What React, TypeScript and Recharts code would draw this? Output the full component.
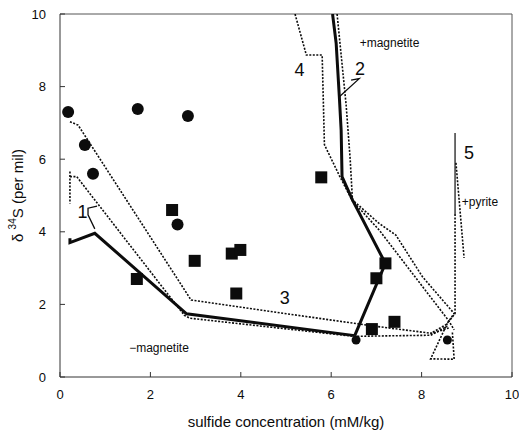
import React from 'react';
import {
  ComposedChart,
  Line,
  Scatter,
  XAxis,
  YAxis,
  ReferenceLine,
  ReferenceDot,
} from 'recharts';

const xTicks = [0, 2, 4, 6, 8, 10];
const yTicks = [0, 2, 4, 6, 8, 10];

// measured samples
const circleX = [0.18, 1.72, 2.83, 0.55, 0.73, 2.6];
const circleY = [7.3, 7.38, 7.19, 6.39, 5.6, 4.2];
const smallCircleX = [6.55, 8.57];
const smallCircleY = [1.02, 1.02];
const squareX = [1.7, 2.48, 2.98, 3.8, 3.99, 3.9, 5.78, 7.2, 7.0, 6.9, 7.4];
const squareY = [2.7, 4.6, 3.2, 3.4, 3.5, 2.3, 5.5, 3.13, 2.72, 1.32, 1.52];

// model path 1 (solid) and its dotted companions
const path1X = [0.22, 0.22, 0.77, 2.8, 6.52];
const path1Y = [3.82, 3.7, 3.96, 1.74, 1.14];
const path1StubX = [0.22, 0.22];
const path1StubY = [5.66, 4.78];
const path1DotX = [0.22, 0.37, 2.75, 2.87, 6.5, 8.2, 8.57];
const path1DotY = [5.52, 5.52, 1.7, 1.62, 1.12, 1.15, 1.4];

// model path 2 (solid)
const path2X = [6.03, 6.11, 6.18, 6.22, 6.24, 6.47, 7.14, 7.2, 6.52];
const path2Y = [10, 9.19, 7.72, 6.8, 5.52, 4.88, 3.27, 3.13, 1.14];
const path2DotX = [6.13, 6.33, 6.42, 6.47, 7.06, 7.43, 8.02, 8.72, 8.55, 8.2];
const path2DotY = [10, 7.5, 6.0, 4.88, 4.23, 3.91, 2.76, 1.75, 1.45, 1.2];

// model path 3 (dotted)
const path3X = [0.22, 0.4, 2.9, 4.41, 6.84, 8.24, 8.6];
const path3Y = [7.03, 6.94, 2.12, 1.85, 1.42, 1.2, 1.35];

// model path 4 (dotted)
const path4X = [5.2, 5.45, 5.8, 5.85, 6.18, 6.47, 7.06, 8.6, 8.72];
const path4Y = [10, 8.87, 8.87, 6.4, 5.55, 4.85, 4.05, 1.55, 1.3];

// model path 5
const path5SolidX = [8.74, 8.74];
const path5SolidY = [6.72, 4.49];
const path5DotX = [8.74, 8.74, 8.57, 8.2, 8.72, 8.68];
const path5DotY = [4.49, 1.75, 1.48, 0.5, 0.49, 1.25];
const path5BranchX = [8.76, 8.94];
const path5BranchY = [5.9, 3.28];

// leaders from the path numbers
const leader1X = [0.82, 0.62, 0.62, 0.77];
const leader1Y = [4.71, 4.65, 4.47, 4.08];
const leader2X = [6.18, 6.62, 6.44];
const leader2Y = [7.72, 8.22, 8.18];

const labelText = ['+magnetite', '+pyrite', '\u2212magnetite', '1', '2', '3', '4', '5'];
const labelX = [7.29, 9.29, 2.19, 0.5, 6.64, 4.97, 5.3, 9.05];
const labelY = [9.2, 4.83, 0.8, 4.55, 8.5, 2.2, 8.46, 6.17];

const pts = (xs: number[], ys: number[]) => xs.map((x, i) => ({ x, y: ys[i] }));

const FONT = '"Liberation Sans", Arial, sans-serif';
const INK = '#0c0c0c';

const dotted = { stroke: INK, strokeWidth: 1.6, strokeDasharray: '2 1.5' };
const thick = { stroke: INK, strokeWidth: 3 };

const BigCircle = (p: any) => <circle cx={p.cx} cy={p.cy} r={6} fill={INK} />;
const SmallCircle = (p: any) => <circle cx={p.cx} cy={p.cy} r={4.5} fill={INK} />;
const Square = (p: any) => <rect x={p.cx - 6} y={p.cy - 6} width={12} height={12} fill={INK} />;

const YTitle = (props: any) => {
  const vb = props.viewBox || { x: 0, y: 14, width: 60, height: 363 };
  const cx = 17;
  const cy = vb.y + vb.height / 2;
  return (
    <text
      x={cx}
      y={cy}
      transform={`rotate(-90 ${cx} ${cy})`}
      textAnchor="middle"
      dominantBaseline="central"
      fontFamily={FONT}
      fontSize={15}
      fill={INK}
    >
      {'\u03b4 '}
      <tspan fontSize={10} dy={-5}>34</tspan>
      <tspan dy={5}>S (per mil)</tspan>
    </text>
  );
};

const lines: { xs: number[]; ys: number[]; style: any }[] = [
  { xs: path3X, ys: path3Y, style: dotted },
  { xs: path1StubX, ys: path1StubY, style: dotted },
  { xs: path1DotX, ys: path1DotY, style: dotted },
  { xs: path2DotX, ys: path2DotY, style: dotted },
  { xs: path4X, ys: path4Y, style: dotted },
  { xs: path5DotX, ys: path5DotY, style: dotted },
  { xs: path5BranchX, ys: path5BranchY, style: dotted },
  { xs: path5SolidX, ys: path5SolidY, style: { stroke: INK, strokeWidth: 1.2 } },
  { xs: leader1X, ys: leader1Y, style: { stroke: INK, strokeWidth: 1.3 } },
  { xs: leader2X, ys: leader2Y, style: { stroke: INK, strokeWidth: 1.3 } },
  { xs: path1X, ys: path1Y, style: thick },
  { xs: path2X, ys: path2Y, style: thick },
];

export default function App() {
  return (
    <div style={{ position: 'absolute', left: 0, top: 0, background: '#fff' }}>
      <ComposedChart width={519} height={431} margin={{ top: 14, right: 7, bottom: 0, left: 0 }}>
        <XAxis
          dataKey="x"
          type="number"
          domain={[0, 10]}
          ticks={xTicks}
          allowDataOverflow
          height={54}
          stroke="#333"
          tickSize={-5}
          tickMargin={18}
          tick={{ fill: INK, fontSize: 13, fontFamily: FONT }}
          label={{
            value: 'sulfide concentration (mM/kg)',
            position: 'insideBottom',
            offset: 4,
            style: { fill: INK, fontSize: 15, fontFamily: FONT },
          }}
        />
        <YAxis
          dataKey="y"
          type="number"
          domain={[0, 10]}
          ticks={yTicks}
          allowDataOverflow
          width={60}
          stroke="#333"
          tickSize={-5}
          tickMargin={19}
          tick={{ fill: INK, fontSize: 13, fontFamily: FONT }}
          label={<YTitle />}
        />
        <ReferenceLine y={10} stroke="#555" strokeWidth={1} ifOverflow="visible" />
        <ReferenceLine x={10} stroke="#555" strokeWidth={1} ifOverflow="visible" />

        {lines.map((l, i) => (
          <Line
            key={i}
            data={pts(l.xs, l.ys)}
            dataKey="y"
            type="linear"
            dot={false}
            activeDot={false}
            fill="none"
            isAnimationActive={false}
            {...l.style}
          />
        ))}

        <Scatter data={pts(circleX, circleY)} shape={BigCircle} isAnimationActive={false} />
        <Scatter data={pts(smallCircleX, smallCircleY)} shape={SmallCircle} isAnimationActive={false} />
        <Scatter data={pts(squareX, squareY)} shape={Square} isAnimationActive={false} />

        {labelText.map((t, i) => (
          <ReferenceDot
            key={t}
            x={labelX[i]}
            y={labelY[i]}
            r={0}
            fill="none"
            stroke="none"
            ifOverflow="visible"
            label={{
              value: t,
              position: 'center',
              style: {
                fill: INK,
                fontFamily: FONT,
                fontSize: t.length === 1 ? 18 : 12,
              },
            }}
          />
        ))}
      </ComposedChart>
    </div>
  );
}
